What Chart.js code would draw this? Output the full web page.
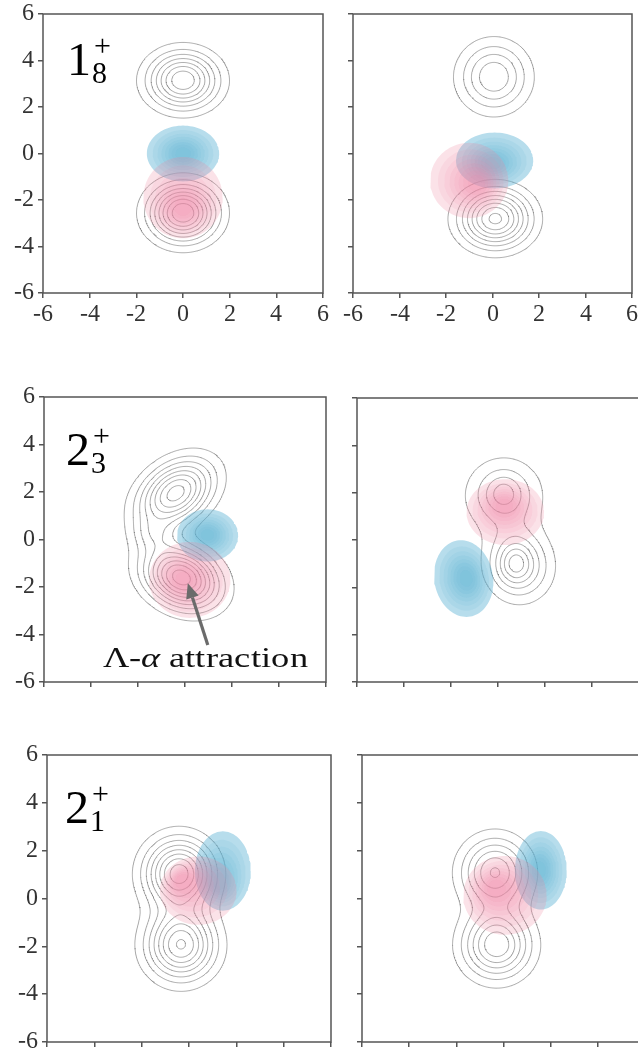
<!DOCTYPE html>
<html><head><meta charset="utf-8">
<script src="https://cdn.jsdelivr.net/npm/chart.js@4.4.1/dist/chart.umd.min.js"></script>
<style>
@font-face{font-family:'TNR';font-style:normal;src:local('Liberation Serif'),local('LiberationSerif'),local('Liberation Serif Regular'),local('LiberationSerif-Regular');}
@font-face{font-family:'TNR';font-style:italic;src:local('Liberation Serif Italic'),local('LiberationSerif-Italic');}
html,body{margin:0;padding:0;background:#fff;width:638px;height:1053px;overflow:hidden;position:relative}
canvas{position:absolute}
#warm{position:absolute;left:-999px;top:0;font-family:TNR;}
</style></head><body>
<div id="warm">6 <i>α</i></div>
<script>
// ---------- data ----------
const tickValues = [-6, -4, -2, 0, 2, 4, 6];

// gray contour densities: [cx, cy, sigmaU, sigmaV, angleDeg, amplitude]
const p1Density = [[0, 3.15, 0.98, 0.8, 0, 7.9], [0, -2.55, 0.95, 0.82, 0, 9.0]];
const p1Levels = [1, 2, 3, 4, 5, 6, 7, 8];
const p2Density = [[0.06, 3.3, 0.975, 0.97, 0, 4.9], [0.12, -2.8, 0.99, 0.82, 0, 8.3]];
const p2Levels = [1, 2, 3, 4, 5, 6, 7, 8];
const p3Density = [[-0.4, 1.95, 1.15, 0.78, 35, 8.5], [-0.15, -1.6, 1.1, 0.8, -25, 9.6], [-1.35, 0.2, 0.5, 0.6, 80, 2.0]];
const p3Levels = [1, 2, 3, 4, 5, 6, 7, 8, 9];
const p4Density = [[0.25, 1.9, 1.1, 1.05, 0, 3.0], [0.23, 1.97, 0.5, 0.5, 0, 1.7], [0.88, -1.05, 0.9, 0.97, 10, 4.5], [0.72, -0.98, 0.45, 0.55, 0, 2.2]];
const p4Levels = [1, 2, 3, 4, 5, 6];
const p5Density = [[-0.42, 1.05, 0.95, 0.95, 0, 8.6], [-0.34, -1.94, 0.95, 0.95, 0, 8.1]];
const p5Levels = [1, 2, 3, 4, 5, 6, 7, 8];
const p6Density = [[-0.36, 1.1, 0.95, 0.95, 0, 6.1], [-0.29, -1.94, 0.95, 0.92, 0, 6.9]];
const p6Levels = [1, 2, 3, 4, 5, 6];

// shaded blobs: [cx, cy, rx, ry, angleDeg, peakX, peakY]
const p1Pink = [0, -1.9, 1.7, 1.75, 0, 0, -2.4];
const p1Blue = [0, 0.0, 1.55, 1.2, 0, 0, 0.0];
const p2Pink = [-1.0, -1.16, 1.68, 1.62, 0, -0.6, -1.3];
const p2Blue = [0.09, -0.3, 1.66, 1.2, 0, 0.0, -0.45];
const p3Pink = [0.2, -1.7, 1.73, 1.6, 0, -0.1, -1.7];
const p3Blue = [0.96, 0.17, 1.3, 1.1, 0, 0.95, 0.2];
const p4Pink = [0.31, 1.18, 1.65, 1.39, 0, 0.25, 1.5];
const p4Blue = [-1.46, -1.63, 1.25, 1.63, 10, -1.33, -1.62];
const p5Pink = [0.39, 0.33, 1.62, 1.43, 0, -0.4, 0.8];
const p5Blue = [1.43, 1.15, 1.18, 1.66, 0, 1.24, 0.6];
const p6Pink = [0.06, 0.13, 1.77, 1.65, 0, -0.4, 0.5];
const p6Blue = [1.58, 1.18, 1.1, 1.64, 0, 1.54, 1.19];

// panel labels: [main, sub, sup, x, y]
const p1Label = ['1', '8', '+', -4.97, 3.38];
const p3Label = ['2', '3', '+', -5.08, 3.14];
const p5Label = ['2', '1', '+', -5.24, 3.16];
// annotation arrow: [tailX, tailY, headX, headY]; note: [textBefore, italic, textAfter, x, y]
const p3Arrow = [0.97, -4.44, 0.12, -1.84];
const p3Note = ['Λ-', 'α', ' attraction', -3.51, -5.37];

// ---------- helpers ----------
const FAM = 'TNR, "Liberation Serif", "Times New Roman", serif';
function densityAt(comps, x, y) {
  let s = 0;
  for (const [cx, cy, su, sv, ang, amp] of comps) {
    const t = ang * Math.PI / 180, dx = x - cx, dy = y - cy;
    const u = dx * Math.cos(t) + dy * Math.sin(t), v = -dx * Math.sin(t) + dy * Math.cos(t);
    s += amp * Math.exp(-0.5 * (u * u / (su * su) + v * v / (sv * sv)));
  }
  return s;
}
function contourPoints(comps, levels) {
  const N = 301, h = 12 / (N - 1);
  const g = [];
  for (let j = 0; j < N; j++) { const row = new Float64Array(N); for (let i = 0; i < N; i++) row[i] = densityAt(comps, -6 + i * h, -6 + j * h); g.push(row); }
  const pts = [];
  for (const L of levels) {
    for (let j = 0; j < N - 1; j++) for (let i = 0; i < N - 1; i++) {
      const a = g[j][i], b = g[j][i + 1], c = g[j + 1][i + 1], d = g[j + 1][i];
      const idx = (a > L ? 1 : 0) | (b > L ? 2 : 0) | (c > L ? 4 : 0) | (d > L ? 8 : 0);
      if (idx === 0 || idx === 15) continue;
      const x0 = -6 + i * h, y0 = -6 + j * h;
      const E = e => {
        if (e === 0) return {x: x0 + h * (L - a) / (b - a), y: y0};
        if (e === 1) return {x: x0 + h, y: y0 + h * (L - b) / (c - b)};
        if (e === 2) return {x: x0 + h * (L - d) / (c - d), y: y0 + h};
        return {x: x0, y: y0 + h * (L - a) / (d - a)};
      };
      const ctr = (a + b + c + d) / 4;
      let segs;
      switch (idx) {
        case 1: case 14: segs = [[3, 0]]; break;
        case 2: case 13: segs = [[0, 1]]; break;
        case 3: case 12: segs = [[3, 1]]; break;
        case 4: case 11: segs = [[1, 2]]; break;
        case 6: case 9: segs = [[0, 2]]; break;
        case 7: case 8: segs = [[3, 2]]; break;
        case 5: segs = ctr > L ? [[3, 2], [0, 1]] : [[3, 0], [1, 2]]; break;
        case 10: segs = ctr > L ? [[3, 0], [1, 2]] : [[0, 1], [2, 3]]; break;
      }
      for (const [e1, e2] of segs) { const p = E(e1), q = E(e2); pts.push(p, q, {x: q.x, y: null}); }
    }
  }
  return pts;
}
const blobScales = [1, 0.84, 0.71, 0.6, 0.5, 0.41, 0.32, 0.22];
function blobDatasets(b, rgb, a0, a1) {
  const [cx, cy, rx, ry, ang, px, py] = b;
  const t = ang * Math.PI / 180;
  return blobScales.map((s, k) => {
    const ox = cx + (px - cx) * (1 - s), oy = cy + (py - cy) * (1 - s);
    const pts = [];
    for (let i = 0; i <= 96; i++) {
      const th = i / 96 * 2 * Math.PI, ex = rx * s * Math.cos(th), ey = ry * s * Math.sin(th);
      pts.push({x: ox + ex * Math.cos(t) - ey * Math.sin(t), y: oy + ex * Math.sin(t) + ey * Math.cos(t)});
    }
    return {data: pts, borderWidth: 0, pointRadius: 0, fill: 'shape', tension: 0, backgroundColor: `rgba(${rgb},${k ? a1 : a0})`};
  });
}
const PINK = '240,132,160', BLUE = '95,180,212';

const decor = {
  id: 'decor',
  afterDatasetsDraw(chart, args, o) {
    const ctx = chart.ctx, xs = chart.scales.x, ys = chart.scales.y, A = chart.chartArea;
    ctx.save();
    ctx.strokeStyle = '#555'; ctx.lineWidth = 1.5;
    ctx.strokeRect(A.left, A.top, A.right - A.left, A.bottom - A.top);
    if (o.arrow) {
      const [tx, ty, hx, hy] = o.arrow;
      const x1 = xs.getPixelForValue(tx), y1 = ys.getPixelForValue(ty), x2 = xs.getPixelForValue(hx), y2 = ys.getPixelForValue(hy);
      const ang = Math.atan2(y2 - y1, x2 - x1), hl = 15, hw = 6.5;
      const bx = x2 - hl * Math.cos(ang), by = y2 - hl * Math.sin(ang);
      ctx.strokeStyle = '#6b6b6b'; ctx.fillStyle = '#6b6b6b'; ctx.lineWidth = 3.2;
      ctx.beginPath(); ctx.moveTo(x1, y1); ctx.lineTo(bx, by); ctx.stroke();
      ctx.beginPath(); ctx.moveTo(x2, y2);
      ctx.lineTo(bx + hw * Math.sin(ang), by - hw * Math.cos(ang));
      ctx.lineTo(bx - hw * Math.sin(ang), by + hw * Math.cos(ang));
      ctx.closePath(); ctx.fill();
    }
    if (o.note) {
      const [t1, t2, t3, nx, ny] = o.note;
      const px = xs.getPixelForValue(nx), py = ys.getPixelForValue(ny);
      ctx.fillStyle = '#111'; ctx.textBaseline = 'alphabetic'; ctx.textAlign = 'left';
      const f1 = '29px ' + FAM, f2 = 'italic 29px ' + FAM;
      ctx.font = f1; const w1 = ctx.measureText(t1).width, w3 = ctx.measureText(t3).width;
      ctx.font = f2; const w2 = ctx.measureText(t2).width;
      const sx = o.noteWidth / (w1 + w2 + w3);
      ctx.translate(px, py); ctx.scale(sx, 1);
      ctx.font = f1; ctx.fillText(t1, 0, 0);
      ctx.font = f2; ctx.fillText(t2, w1, 0);
      ctx.font = f1; ctx.fillText(t3, w1 + w2, 0);
      ctx.setTransform(1, 0, 0, 1, 0, 0);
    }
    if (o.label) {
      const [m, sb, sp, lx, ly] = o.label;
      const px = xs.getPixelForValue(lx), py = ys.getPixelForValue(ly);
      ctx.fillStyle = '#000'; ctx.textBaseline = 'alphabetic'; ctx.textAlign = 'left';
      ctx.font = '48px ' + FAM; ctx.fillText(m, px, py);
      const w = ctx.measureText(m).width;
      ctx.font = '30px ' + FAM;
      ctx.fillText(sb, px + w + 1, py + 8);
      ctx.fillText(sp, px + w + 3, py - 19);
    }
    ctx.restore();
  }
};

function makePanel(area, density, levels, blobs, xLabels, yLabels, extra) {
  const [L, T, R, B] = area, Ly = 46, pt = 20, pr = 14, Hx = 44;
  const cv = document.createElement('canvas');
  cv.width = Ly + (R - L) + pr; cv.height = pt + (B - T) + Hx;
  cv.style.left = (L - Ly) + 'px'; cv.style.top = (T - pt) + 'px';
  document.body.appendChild(cv);
  const datasets = [];
  for (const [b, rgb] of blobs) datasets.push(...(rgb === PINK ? blobDatasets(b, PINK, 0.24, 0.11) : blobDatasets(b, BLUE, 0.45, 0.13)));
  datasets.push({data: contourPoints(density, levels), borderColor: 'rgba(100,100,100,0.62)', borderWidth: 0.85, pointRadius: 0, fill: false, spanGaps: false, tension: 0});
  const tickFont = {family: FAM, size: 24};
  const axis = (isX, show) => ({
    type: 'linear', min: -6, max: 6, position: isX ? 'bottom' : 'left',
    afterBuildTicks: s => { s.ticks = tickValues.map(v => ({value: v})); },
    afterFit: s => { if (isX) s.height = Hx; else s.width = Ly; },
    grid: {drawOnChartArea: false, drawTicks: true, tickLength: 5, color: '#555', lineWidth: 1.5},
    border: {display: false},
    ticks: {display: show, font: tickFont, color: '#333', padding: isX ? 2 : 4, maxRotation: 0, autoSkip: false}
  });
  new Chart(cv, {
    type: 'line',
    data: {datasets},
    options: {
      responsive: false, animation: false, events: [],
      layout: {padding: {left: 0, right: pr, top: pt, bottom: 0}},
      plugins: {legend: {display: false}, tooltip: {enabled: false}, decor: extra || {}},
      scales: {x: axis(true, xLabels), y: axis(false, yLabels)}
    },
    plugins: [decor]
  });
}

function drawAll() {
  makePanel([43, 14, 323, 293], p1Density, p1Levels, [[p1Pink, PINK], [p1Blue, BLUE]], true, true, {label: p1Label});
  makePanel([353, 14, 632, 293], p2Density, p2Levels, [[p2Pink, PINK], [p2Blue, BLUE]], true, false, {});
  makePanel([44, 397, 326, 682], p3Density, p3Levels, [[p3Pink, PINK], [p3Blue, BLUE]], false, true, {label: p3Label, arrow: p3Arrow, note: p3Note, noteWidth: 206});
  makePanel([357, 398, 639, 682], p4Density, p4Levels, [[p4Pink, PINK], [p4Blue, BLUE]], false, false, {});
  makePanel([47, 755, 331, 1042], p5Density, p5Levels, [[p5Pink, PINK], [p5Blue, BLUE]], false, true, {label: p5Label});
  makePanel([362, 755, 645, 1042], p6Density, p6Levels, [[p6Pink, PINK], [p6Blue, BLUE]], false, false, {});
}
Promise.all([document.fonts.load('24px TNR'), document.fonts.load('italic 24px TNR')]).catch(() => {}).then(drawAll);
</script>
</body></html>
